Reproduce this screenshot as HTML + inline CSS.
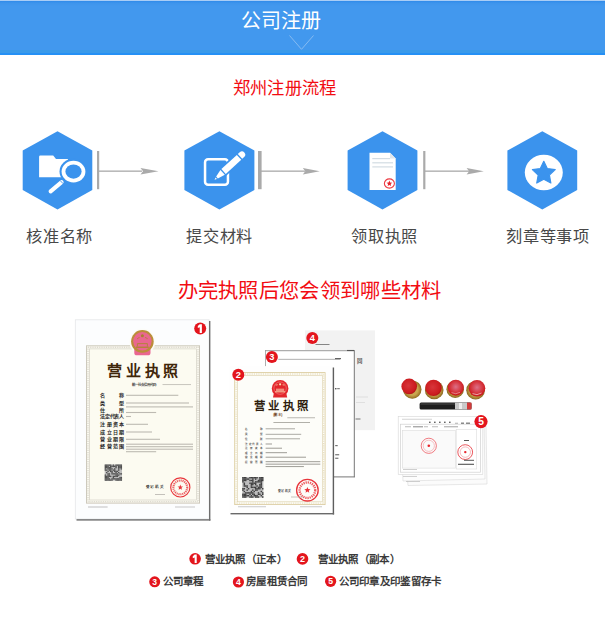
<!DOCTYPE html>
<html lang="zh-CN">
<head>
<meta charset="utf-8">
<style>
html,body{margin:0;padding:0;background:#fff;}
body{width:605px;height:617px;overflow:hidden;position:relative;font-family:"Liberation Sans",sans-serif;}
.a{position:absolute;white-space:nowrap;line-height:1;}
#hdr{position:absolute;left:0;top:0;width:605px;height:55px;background:linear-gradient(#a9cdf5 0,#a9cdf5 1px,#2f8ae9 1px,#3d94ec 3px,#4298ee 6px,#4298ee 49.5px,#3a9aea 50px,#3a9aea 52.8px,#2590f5 53.2px,#2590f5 55px);}
#hdr .t{left:240.5px;top:10.6px;font-size:20px;color:#fff;font-weight:500;}
.red{color:#f20c12;}
.lbl{font-size:16.2px;letter-spacing:0.8px;color:#484848;top:227.5px;}
.lg{font-size:10.5px;letter-spacing:0.3px;color:#3a3a3a;font-weight:bold;}
svg{position:absolute;left:0;top:0;}
</style>
</head>
<body>
<div id="hdr"><div class="a t">公司注册</div></div>
<div class="a red" style="left:232.8px;top:79.5px;font-size:17.3px;letter-spacing:0.3px;font-weight:500;">郑州注册流程</div>

<svg width="605" height="617" viewBox="0 0 605 617">
  <!-- chevron in header -->
  <polyline points="289.5,35.5 301.5,49.3 313.5,35.5" fill="none" stroke="#86bbf2" stroke-width="1"/>
  <!-- hexagons -->
  <g fill="#3b93ed">
    <polygon points="57.5,131.2 92.3,150.6 92.3,190 57.5,209.4 22.7,190 22.7,150.6"/>
    <polygon points="219.4,131.2 254.4,150.6 254.4,190 219.4,209.4 184.4,190 184.4,150.6"/>
    <polygon points="382.5,131.2 417.4,150.6 417.4,190 382.5,209.4 347.6,190 347.6,150.6"/>
    <polygon points="542.3,131.2 577.2,150.6 577.2,190 542.3,209.4 507.4,190 507.4,150.6"/>
  </g>
  <!-- connectors -->
  <g fill="#aaaaaa">
    <rect x="97" y="151" width="2.2" height="38.2"/>
    <rect x="258" y="151" width="3.6" height="38.2"/>
    <rect x="423.2" y="151" width="2.2" height="38.2"/>
    <rect x="98" y="170.5" width="44" height="1.3"/>
    <rect x="260" y="170.5" width="45" height="1.3"/>
    <rect x="424" y="170.5" width="45" height="1.3"/>
    <path d="M158.5,171.2 L140.5,168 L143,171.2 L140.5,174.4 Z"/>
    <path d="M319.8,171.2 L302.8,168 L305.3,171.2 L302.8,174.4 Z"/>
    <path d="M483.8,171.2 L466.6,168 L469.1,171.2 L466.6,174.4 Z"/>
  </g>
  <!-- icon 1: folder + magnifier -->
  <path d="M39.1,156.7 Q39.1,155.5 40.3,155.5 H53.2 L56,159.1 H68 V177.3 H39.1 Z" fill="#fff"/>
  <ellipse cx="73.5" cy="171.6" rx="14" ry="13" fill="#3b93ed"/>
  <ellipse cx="73.5" cy="171.6" rx="11.9" ry="10.8" fill="#fff"/>
  <ellipse cx="73.5" cy="171.6" rx="8.1" ry="7.1" fill="#3b93ed"/>
  <line x1="61.6" y1="182.1" x2="50.6" y2="191.4" stroke="#fff" stroke-width="4" stroke-linecap="round"/>
  <line x1="60.2" y1="180.6" x2="63.2" y2="183.7" stroke="#3b93ed" stroke-width="0.9"/>
  <!-- icon 2: square + pencil -->
  <rect x="205.05" y="159.15" width="22.9" height="25.6" rx="3" fill="none" stroke="#fff" stroke-width="2.5"/>
  <g transform="translate(214.5,179.8) rotate(-42.5)">
    <g fill="#3b93ed" stroke="#3b93ed" stroke-width="3.4" stroke-linejoin="round">
      <path d="M3.3,-1.2 L11,-3.25 H37.2 A3.25,3.25 0 0 1 37.2,3.25 H11 L3.3,1.2 Z"/>
    </g>
    <g fill="#fff">
      <path d="M0,0 L2.4,-0.95 L2.4,0.95 Z"/>
      <path d="M3.4,-1.25 L11,-3.25 L11,3.25 L3.4,1.25 Z"/>
      <rect x="12.3" y="-3.25" width="21" height="6.5"/>
      <path d="M34.6,-3.25 H37.2 A3.25,3.25 0 0 1 37.2,3.25 H34.6 Z"/>
    </g>
  </g>
  <!-- icon 3: document -->
  <path d="M369.5,152.8 h20.5 l5.7,5.7 v31.6 h-26.2 Z" fill="#fff"/>
  <path d="M390,152.8 v5.7 h5.7 Z" fill="#e2e8ed"/>
  <g stroke="#d3dce3" stroke-width="1.2">
    <line x1="372.3" y1="158.6" x2="390" y2="158.6"/>
    <line x1="372.3" y1="162.8" x2="393" y2="162.8"/>
    <line x1="372.3" y1="166.9" x2="393" y2="166.9"/>
  </g>
  <ellipse cx="389.4" cy="183.5" rx="5" ry="4.6" fill="none" stroke="#ec3c44" stroke-width="1.1"/>
  <path d="M389.40,180.60 L390.19,182.51 L392.25,182.67 L390.68,184.02 L391.16,186.03 L389.40,184.95 L387.64,186.03 L388.12,184.02 L386.55,182.67 L388.61,182.51 Z" fill="#e8222a"/>
  <!-- icon 4: circle star -->
  <ellipse cx="543.8" cy="172.5" rx="19" ry="17.8" fill="#fff"/>
  <g font-family="Liberation Sans, sans-serif"><rect x="305" y="330.4" width="70" height="99.8" fill="#f2f2f2"/><rect x="315.50" y="344.00" width="14.00" height="0.80" fill="#6a6a6a"/><text x="356.80" y="363.40" font-size="5.40" fill="#555" font-weight="bold" letter-spacing="0.00" text-anchor="start">同</text><rect x="356.00" y="396.60" width="12.00" height="0.80" fill="#dadada"/><rect x="356.00" y="402.10" width="9.00" height="0.80" fill="#dadada"/><rect x="355.50" y="418.50" width="5.00" height="1.00" fill="#777"/><circle cx="312.30" cy="338.00" r="6.00" fill="#e3151d"/><text x="312.30" y="341.30" font-size="9.30" font-weight="bold" fill="#fff" text-anchor="middle" font-family="Liberation Sans">4</text><rect x="265" y="350.2" width="89.4" height="127" fill="#fff"/><rect x="265" y="350.2" width="89.6" height="1" fill="#9a9a9a"/><rect x="265" y="350.2" width="0.8" height="16" fill="#9a9a9a"/><rect x="353.8" y="350.2" width="1" height="127" fill="#777"/><rect x="333" y="476.4" width="21.8" height="1" fill="#777"/><rect x="278.30" y="358.85" width="62.00" height="0.90" fill="#a8a8a8"/><rect x="335.00" y="358.10" width="6.00" height="1.00" fill="#555"/><rect x="347.00" y="349.95" width="7.00" height="1.10" fill="#555"/><rect x="335.20" y="388.00" width="1.20" height="1.40" fill="#333"/><rect x="337.20" y="388.20" width="2.60" height="1.00" fill="#666"/><rect x="335.20" y="445.25" width="2.50" height="0.90" fill="#444"/><rect x="335.20" y="454.35" width="4.00" height="0.90" fill="#444"/><rect x="335.20" y="457.75" width="3.20" height="0.90" fill="#444"/><circle cx="271.90" cy="357.10" r="6.00" fill="#e3151d"/><text x="271.90" y="360.40" font-size="9.30" font-weight="bold" fill="#fff" text-anchor="middle" font-family="Liberation Sans">3</text><rect x="75.3" y="319.8" width="133.8" height="199.2" fill="#fcfdfe" stroke="#e4e6e8" stroke-width="0.8"/><rect x="209" y="321" width="1.4" height="199.6" fill="#6e6e6e"/><rect x="76.5" y="519.2" width="133.9" height="1.4" fill="#6e6e6e"/><rect x="86" y="345.3" width="114" height="158.3" fill="#fcfbf1"/><rect x="86.5" y="345.8" width="113" height="157.3" fill="none" stroke="#cdc9bd" stroke-width="1"/><rect x="88" y="347.3" width="110" height="154.3" fill="none" stroke="#dcd9cf" stroke-width="1.4" stroke-dasharray="1 0.8"/><rect x="89.6" y="348.9" width="106.8" height="151.1" fill="none" stroke="#d4d0c5" stroke-width="0.7"/><circle cx="142.4" cy="341.6" r="13" fill="#fcfcf8"/><rect x="134.3" y="347.5" width="16.2" height="7.8" rx="2.6" fill="#ea6690"/><path d="M135.5,350.6 h13.8" stroke="#d9a070" stroke-width="0.7"/><circle cx="142.4" cy="341.4" r="11.3" fill="#bb8d3a"/><circle cx="142.4" cy="341.2" r="9.2" fill="#e9678f"/><circle cx="142.4" cy="335.8" r="1.5" fill="#a8802e"/><circle cx="139.00" cy="337.60" r="0.7" fill="#b08634"/><circle cx="145.80" cy="337.60" r="0.7" fill="#b08634"/><circle cx="137.80" cy="338.60" r="0.7" fill="#b08634"/><circle cx="147.00" cy="338.60" r="0.7" fill="#b08634"/><path d="M137.4,346.6 v-3 h10 v3" fill="none" stroke="#b08634" stroke-width="0.9"/><rect x="136" y="346.6" width="12.8" height="1.3" fill="#b08634"/><text x="107.20" y="375.60" font-size="15.00" fill="#3f2609" font-weight="900" letter-spacing="3.70" text-anchor="start" font-family="Liberation Serif, serif">营业执照</text><text x="131.50" y="386.00" font-size="3.40" fill="#3a3a3a" font-weight="bold" letter-spacing="0.00" text-anchor="start">统一社会信用代码</text><rect x="162.50" y="384.15" width="28.50" height="0.90" fill="#c2bfb8"/><text x="100.30" y="397.20" font-size="5.00" fill="#262626" font-weight="bold" letter-spacing="0.00" text-anchor="start">名</text><text x="118.90" y="397.20" font-size="5.00" fill="#262626" font-weight="bold" letter-spacing="0.00" text-anchor="start">称</text><rect x="126.00" y="394.75" width="52.30" height="1.10" fill="#bdbab2"/><text x="100.30" y="404.90" font-size="5.00" fill="#262626" font-weight="bold" letter-spacing="0.00" text-anchor="start">类</text><text x="118.90" y="404.90" font-size="5.00" fill="#262626" font-weight="bold" letter-spacing="0.00" text-anchor="start">型</text><rect x="126.00" y="402.45" width="63.00" height="1.10" fill="#bdbab2"/><text x="100.30" y="411.70" font-size="5.00" fill="#262626" font-weight="bold" letter-spacing="0.00" text-anchor="start">住</text><text x="118.90" y="411.70" font-size="5.00" fill="#262626" font-weight="bold" letter-spacing="0.00" text-anchor="start">所</text><rect x="126.00" y="406.35" width="67.00" height="1.10" fill="#bdbab2"/><rect x="126.00" y="411.95" width="30.15" height="1.10" fill="#bdbab2"/><text x="100.30" y="418.40" font-size="5.00" fill="#262626" font-weight="bold" letter-spacing="0.00" text-anchor="start">法</text><text x="104.90" y="418.40" font-size="5.00" fill="#262626" font-weight="bold" letter-spacing="0.00" text-anchor="start">定</text><text x="109.50" y="418.40" font-size="5.00" fill="#262626" font-weight="bold" letter-spacing="0.00" text-anchor="start">代</text><text x="114.10" y="418.40" font-size="5.00" fill="#262626" font-weight="bold" letter-spacing="0.00" text-anchor="start">表</text><text x="118.70" y="418.40" font-size="5.00" fill="#262626" font-weight="bold" letter-spacing="0.00" text-anchor="start">人</text><rect x="126.00" y="415.95" width="5.00" height="1.10" fill="#bdbab2"/><text x="100.30" y="426.20" font-size="5.00" fill="#262626" font-weight="bold" letter-spacing="0.00" text-anchor="start">注</text><text x="106.50" y="426.20" font-size="5.00" fill="#262626" font-weight="bold" letter-spacing="0.00" text-anchor="start">册</text><text x="112.70" y="426.20" font-size="5.00" fill="#262626" font-weight="bold" letter-spacing="0.00" text-anchor="start">资</text><text x="118.90" y="426.20" font-size="5.00" fill="#262626" font-weight="bold" letter-spacing="0.00" text-anchor="start">本</text><rect x="126.00" y="423.75" width="22.00" height="1.10" fill="#bdbab2"/><text x="100.30" y="433.90" font-size="5.00" fill="#262626" font-weight="bold" letter-spacing="0.00" text-anchor="start">成</text><text x="106.50" y="433.90" font-size="5.00" fill="#262626" font-weight="bold" letter-spacing="0.00" text-anchor="start">立</text><text x="112.70" y="433.90" font-size="5.00" fill="#262626" font-weight="bold" letter-spacing="0.00" text-anchor="start">日</text><text x="118.90" y="433.90" font-size="5.00" fill="#262626" font-weight="bold" letter-spacing="0.00" text-anchor="start">期</text><rect x="126.00" y="431.45" width="26.00" height="1.10" fill="#bdbab2"/><text x="100.30" y="441.20" font-size="5.00" fill="#262626" font-weight="bold" letter-spacing="0.00" text-anchor="start">营</text><text x="106.50" y="441.20" font-size="5.00" fill="#262626" font-weight="bold" letter-spacing="0.00" text-anchor="start">业</text><text x="112.70" y="441.20" font-size="5.00" fill="#262626" font-weight="bold" letter-spacing="0.00" text-anchor="start">期</text><text x="118.90" y="441.20" font-size="5.00" fill="#262626" font-weight="bold" letter-spacing="0.00" text-anchor="start">限</text><rect x="126.00" y="438.75" width="34.00" height="1.10" fill="#bdbab2"/><text x="100.30" y="448.40" font-size="5.00" fill="#262626" font-weight="bold" letter-spacing="0.00" text-anchor="start">经</text><text x="106.50" y="448.40" font-size="5.00" fill="#262626" font-weight="bold" letter-spacing="0.00" text-anchor="start">营</text><text x="112.70" y="448.40" font-size="5.00" fill="#262626" font-weight="bold" letter-spacing="0.00" text-anchor="start">范</text><text x="118.90" y="448.40" font-size="5.00" fill="#262626" font-weight="bold" letter-spacing="0.00" text-anchor="start">围</text><rect x="126.00" y="443.65" width="67.00" height="1.10" fill="#bdbab2"/><rect x="126.00" y="446.15" width="67.00" height="1.10" fill="#bdbab2"/><rect x="126.00" y="448.65" width="67.00" height="1.10" fill="#bdbab2"/><rect x="126.00" y="451.15" width="30.15" height="1.10" fill="#bdbab2"/><rect x="104.70" y="464.50" width="17.30" height="16.20" fill="#bdbdbd"/><rect x="104.70" y="464.50" width="1.38" height="1.30" fill="#505050"/><rect x="106.03" y="464.50" width="1.38" height="1.30" fill="#505050"/><rect x="107.36" y="464.50" width="1.38" height="1.30" fill="#505050"/><rect x="108.69" y="464.50" width="1.38" height="1.30" fill="#505050"/><rect x="110.02" y="464.50" width="1.38" height="1.30" fill="#505050"/><rect x="112.68" y="464.50" width="1.38" height="1.30" fill="#505050"/><rect x="115.35" y="464.50" width="1.38" height="1.30" fill="#505050"/><rect x="116.68" y="464.50" width="1.38" height="1.30" fill="#505050"/><rect x="118.01" y="464.50" width="1.38" height="1.30" fill="#505050"/><rect x="119.34" y="464.50" width="1.38" height="1.30" fill="#505050"/><rect x="120.67" y="464.50" width="1.38" height="1.30" fill="#505050"/><rect x="104.70" y="465.75" width="1.38" height="1.30" fill="#505050"/><rect x="106.03" y="465.75" width="1.38" height="1.30" fill="#505050"/><rect x="107.36" y="465.75" width="1.38" height="1.30" fill="#505050"/><rect x="110.02" y="465.75" width="1.38" height="1.30" fill="#505050"/><rect x="111.35" y="465.75" width="1.38" height="1.30" fill="#505050"/><rect x="112.68" y="465.75" width="1.38" height="1.30" fill="#505050"/><rect x="114.02" y="465.75" width="1.38" height="1.30" fill="#505050"/><rect x="115.35" y="465.75" width="1.38" height="1.30" fill="#505050"/><rect x="118.01" y="465.75" width="1.38" height="1.30" fill="#505050"/><rect x="119.34" y="465.75" width="1.38" height="1.30" fill="#505050"/><rect x="120.67" y="465.75" width="1.38" height="1.30" fill="#505050"/><rect x="104.70" y="466.99" width="1.38" height="1.30" fill="#505050"/><rect x="106.03" y="466.99" width="1.38" height="1.30" fill="#505050"/><rect x="107.36" y="466.99" width="1.38" height="1.30" fill="#505050"/><rect x="108.69" y="466.99" width="1.38" height="1.30" fill="#505050"/><rect x="110.02" y="466.99" width="1.38" height="1.30" fill="#505050"/><rect x="115.35" y="466.99" width="1.38" height="1.30" fill="#505050"/><rect x="118.01" y="466.99" width="1.38" height="1.30" fill="#505050"/><rect x="119.34" y="466.99" width="1.38" height="1.30" fill="#505050"/><rect x="120.67" y="466.99" width="1.38" height="1.30" fill="#505050"/><rect x="104.70" y="468.24" width="1.38" height="1.30" fill="#505050"/><rect x="107.36" y="468.24" width="1.38" height="1.30" fill="#505050"/><rect x="108.69" y="468.24" width="1.38" height="1.30" fill="#505050"/><rect x="110.02" y="468.24" width="1.38" height="1.30" fill="#505050"/><rect x="111.35" y="468.24" width="1.38" height="1.30" fill="#505050"/><rect x="114.02" y="468.24" width="1.38" height="1.30" fill="#505050"/><rect x="118.01" y="468.24" width="1.38" height="1.30" fill="#505050"/><rect x="120.67" y="468.24" width="1.38" height="1.30" fill="#505050"/><rect x="104.70" y="469.48" width="1.38" height="1.30" fill="#505050"/><rect x="106.03" y="469.48" width="1.38" height="1.30" fill="#505050"/><rect x="108.69" y="469.48" width="1.38" height="1.30" fill="#505050"/><rect x="110.02" y="469.48" width="1.38" height="1.30" fill="#505050"/><rect x="112.68" y="469.48" width="1.38" height="1.30" fill="#505050"/><rect x="114.02" y="469.48" width="1.38" height="1.30" fill="#505050"/><rect x="118.01" y="469.48" width="1.38" height="1.30" fill="#505050"/><rect x="107.36" y="470.73" width="1.38" height="1.30" fill="#505050"/><rect x="110.02" y="470.73" width="1.38" height="1.30" fill="#505050"/><rect x="111.35" y="470.73" width="1.38" height="1.30" fill="#505050"/><rect x="114.02" y="470.73" width="1.38" height="1.30" fill="#505050"/><rect x="115.35" y="470.73" width="1.38" height="1.30" fill="#505050"/><rect x="116.68" y="470.73" width="1.38" height="1.30" fill="#505050"/><rect x="106.03" y="471.98" width="1.38" height="1.30" fill="#505050"/><rect x="111.35" y="471.98" width="1.38" height="1.30" fill="#505050"/><rect x="115.35" y="471.98" width="1.38" height="1.30" fill="#505050"/><rect x="118.01" y="471.98" width="1.38" height="1.30" fill="#505050"/><rect x="107.36" y="473.22" width="1.38" height="1.30" fill="#505050"/><rect x="108.69" y="473.22" width="1.38" height="1.30" fill="#505050"/><rect x="111.35" y="473.22" width="1.38" height="1.30" fill="#505050"/><rect x="112.68" y="473.22" width="1.38" height="1.30" fill="#505050"/><rect x="114.02" y="473.22" width="1.38" height="1.30" fill="#505050"/><rect x="115.35" y="473.22" width="1.38" height="1.30" fill="#505050"/><rect x="116.68" y="473.22" width="1.38" height="1.30" fill="#505050"/><rect x="119.34" y="473.22" width="1.38" height="1.30" fill="#505050"/><rect x="120.67" y="473.22" width="1.38" height="1.30" fill="#505050"/><rect x="104.70" y="474.47" width="1.38" height="1.30" fill="#505050"/><rect x="107.36" y="474.47" width="1.38" height="1.30" fill="#505050"/><rect x="108.69" y="474.47" width="1.38" height="1.30" fill="#505050"/><rect x="115.35" y="474.47" width="1.38" height="1.30" fill="#505050"/><rect x="116.68" y="474.47" width="1.38" height="1.30" fill="#505050"/><rect x="118.01" y="474.47" width="1.38" height="1.30" fill="#505050"/><rect x="104.70" y="475.72" width="1.38" height="1.30" fill="#505050"/><rect x="106.03" y="475.72" width="1.38" height="1.30" fill="#505050"/><rect x="107.36" y="475.72" width="1.38" height="1.30" fill="#505050"/><rect x="108.69" y="475.72" width="1.38" height="1.30" fill="#505050"/><rect x="110.02" y="475.72" width="1.38" height="1.30" fill="#505050"/><rect x="112.68" y="475.72" width="1.38" height="1.30" fill="#505050"/><rect x="114.02" y="475.72" width="1.38" height="1.30" fill="#505050"/><rect x="115.35" y="475.72" width="1.38" height="1.30" fill="#505050"/><rect x="116.68" y="475.72" width="1.38" height="1.30" fill="#505050"/><rect x="104.70" y="476.96" width="1.38" height="1.30" fill="#505050"/><rect x="106.03" y="476.96" width="1.38" height="1.30" fill="#505050"/><rect x="107.36" y="476.96" width="1.38" height="1.30" fill="#505050"/><rect x="112.68" y="476.96" width="1.38" height="1.30" fill="#505050"/><rect x="119.34" y="476.96" width="1.38" height="1.30" fill="#505050"/><rect x="120.67" y="476.96" width="1.38" height="1.30" fill="#505050"/><rect x="104.70" y="478.21" width="1.38" height="1.30" fill="#505050"/><rect x="106.03" y="478.21" width="1.38" height="1.30" fill="#505050"/><rect x="107.36" y="478.21" width="1.38" height="1.30" fill="#505050"/><rect x="108.69" y="478.21" width="1.38" height="1.30" fill="#505050"/><rect x="111.35" y="478.21" width="1.38" height="1.30" fill="#505050"/><rect x="112.68" y="478.21" width="1.38" height="1.30" fill="#505050"/><rect x="114.02" y="478.21" width="1.38" height="1.30" fill="#505050"/><rect x="115.35" y="478.21" width="1.38" height="1.30" fill="#505050"/><rect x="116.68" y="478.21" width="1.38" height="1.30" fill="#505050"/><rect x="118.01" y="478.21" width="1.38" height="1.30" fill="#505050"/><rect x="119.34" y="478.21" width="1.38" height="1.30" fill="#505050"/><rect x="120.67" y="478.21" width="1.38" height="1.30" fill="#505050"/><rect x="104.70" y="479.45" width="1.38" height="1.30" fill="#505050"/><rect x="106.03" y="479.45" width="1.38" height="1.30" fill="#505050"/><rect x="107.36" y="479.45" width="1.38" height="1.30" fill="#505050"/><rect x="108.69" y="479.45" width="1.38" height="1.30" fill="#505050"/><rect x="110.02" y="479.45" width="1.38" height="1.30" fill="#505050"/><rect x="111.35" y="479.45" width="1.38" height="1.30" fill="#505050"/><rect x="115.35" y="479.45" width="1.38" height="1.30" fill="#505050"/><rect x="116.68" y="479.45" width="1.38" height="1.30" fill="#505050"/><rect x="118.01" y="479.45" width="1.38" height="1.30" fill="#505050"/><rect x="119.34" y="479.45" width="1.38" height="1.30" fill="#505050"/><rect x="120.67" y="479.45" width="1.38" height="1.30" fill="#505050"/><text x="145.50" y="488.30" font-size="3.60" fill="#333" font-weight="bold" letter-spacing="0.90" text-anchor="start">登记机关</text><rect x="155.00" y="494.00" width="10.00" height="1.00" fill="#c4c1ba"/><circle cx="180.30" cy="487.40" r="9.60" fill="none" stroke="#e8353b" stroke-width="1.15"/><circle cx="180.30" cy="487.40" r="6.91" fill="none" stroke="#e8353b" stroke-width="2.11" stroke-dasharray="1.15 0.77" opacity="0.8"/><path d="M180.30,484.52 L181.03,486.39 L183.04,486.51 L181.49,487.79 L181.99,489.73 L180.30,488.65 L178.61,489.73 L179.11,487.79 L177.56,486.51 L179.57,486.39 Z" fill="#e8353b"/><rect x="88.00" y="506.50" width="19.60" height="1.00" fill="#c0c0c0"/><rect x="175.00" y="506.50" width="20.00" height="1.00" fill="#c8c8c8"/><circle cx="200.20" cy="328.60" r="6.00" fill="#e3151d"/><polygon points="199.72,324.28 201.88,324.28 201.88,332.92 199.72,332.92 199.72,327.28 197.80,328.12 197.80,326.08" fill="#fff"/><rect x="229.5" y="366.5" width="104" height="147" fill="#fefefe"/><rect x="332.7" y="367.5" width="1.4" height="147" fill="#5e5e5e"/><rect x="230.5" y="513" width="103.6" height="1.4" fill="#6a6a6a"/><rect x="234.3" y="372.2" width="91.2" height="132.8" fill="#fdfdf9"/><rect x="234.7" y="372.6" width="90.4" height="132" fill="none" stroke="#d9c99a" stroke-width="0.8"/><rect x="236.1" y="374" width="87.6" height="129.2" fill="none" stroke="#e9dfc0" stroke-width="1.3" stroke-dasharray="0.9 0.9"/><rect x="237.5" y="375.4" width="84.8" height="126.4" fill="none" stroke="#dccfa8" stroke-width="0.6"/><path d="M273.8,393.5 h12.6 l0.8,4 h-14.2 Z" fill="#e02a2e"/><circle cx="280.1" cy="388.4" r="8.3" fill="#e3262b"/><circle cx="280.1" cy="388.1" r="6.2" fill="none" stroke="#f17a7a" stroke-width="0.7"/><circle cx="280.1" cy="384.3" r="1.1" fill="#fbe3b0"/><circle cx="277.10" cy="384.82" r="0.55" fill="#fbe3b0"/><circle cx="283.10" cy="384.82" r="0.55" fill="#fbe3b0"/><circle cx="276.10" cy="385.02" r="0.55" fill="#fbe3b0"/><circle cx="284.10" cy="385.02" r="0.55" fill="#fbe3b0"/><rect x="276" y="388.6" width="8.2" height="2.6" fill="#f28c7c"/><rect x="275" y="391.4" width="10.2" height="0.9" fill="#fbd9b0"/><text x="253.50" y="410.20" font-size="11.40" fill="#2e1d0e" font-weight="900" letter-spacing="3.60" text-anchor="start">营业执照</text><text x="273.30" y="416.40" font-size="3.40" fill="#6a3d1a" font-weight="bold" letter-spacing="0.00" text-anchor="start">(副 本)</text><rect x="287.30" y="417.40" width="27.70" height="0.80" fill="#a9a7a0"/><rect x="273.40" y="422.05" width="36.60" height="0.90" fill="#a9a7a0"/><text x="244.90" y="429.70" font-size="2.50" fill="#555" font-weight="bold" letter-spacing="0.00" text-anchor="start">名</text><text x="259.70" y="429.70" font-size="2.50" fill="#555" font-weight="bold" letter-spacing="0.00" text-anchor="start">称</text><rect x="265.60" y="428.32" width="29.40" height="0.95" fill="#a8a6a0"/><text x="244.90" y="435.20" font-size="2.50" fill="#555" font-weight="bold" letter-spacing="0.00" text-anchor="start">类</text><text x="259.70" y="435.20" font-size="2.50" fill="#555" font-weight="bold" letter-spacing="0.00" text-anchor="start">型</text><rect x="265.60" y="433.82" width="35.60" height="0.95" fill="#a8a6a0"/><text x="244.90" y="439.70" font-size="2.50" fill="#555" font-weight="bold" letter-spacing="0.00" text-anchor="start">住</text><text x="259.70" y="439.70" font-size="2.50" fill="#555" font-weight="bold" letter-spacing="0.00" text-anchor="start">所</text><rect x="265.60" y="438.32" width="34.40" height="0.95" fill="#a8a6a0"/><text x="244.90" y="444.90" font-size="2.50" fill="#555" font-weight="bold" letter-spacing="0.00" text-anchor="start">法</text><text x="248.60" y="444.90" font-size="2.50" fill="#555" font-weight="bold" letter-spacing="0.00" text-anchor="start">定</text><text x="252.30" y="444.90" font-size="2.50" fill="#555" font-weight="bold" letter-spacing="0.00" text-anchor="start">代</text><text x="256.00" y="444.90" font-size="2.50" fill="#555" font-weight="bold" letter-spacing="0.00" text-anchor="start">表</text><text x="259.70" y="444.90" font-size="2.50" fill="#555" font-weight="bold" letter-spacing="0.00" text-anchor="start">人</text><rect x="265.60" y="443.52" width="6.40" height="0.95" fill="#9a9892"/><text x="244.90" y="449.10" font-size="2.50" fill="#555" font-weight="bold" letter-spacing="0.00" text-anchor="start">注</text><text x="249.83" y="449.10" font-size="2.50" fill="#555" font-weight="bold" letter-spacing="0.00" text-anchor="start">册</text><text x="254.77" y="449.10" font-size="2.50" fill="#555" font-weight="bold" letter-spacing="0.00" text-anchor="start">资</text><text x="259.70" y="449.10" font-size="2.50" fill="#555" font-weight="bold" letter-spacing="0.00" text-anchor="start">本</text><rect x="265.60" y="447.72" width="16.40" height="0.95" fill="#9a9892"/><text x="244.90" y="453.60" font-size="2.50" fill="#555" font-weight="bold" letter-spacing="0.00" text-anchor="start">成</text><text x="249.83" y="453.60" font-size="2.50" fill="#555" font-weight="bold" letter-spacing="0.00" text-anchor="start">立</text><text x="254.77" y="453.60" font-size="2.50" fill="#555" font-weight="bold" letter-spacing="0.00" text-anchor="start">日</text><text x="259.70" y="453.60" font-size="2.50" fill="#555" font-weight="bold" letter-spacing="0.00" text-anchor="start">期</text><rect x="265.60" y="452.22" width="21.40" height="0.95" fill="#9a9892"/><text x="244.90" y="458.10" font-size="2.50" fill="#555" font-weight="bold" letter-spacing="0.00" text-anchor="start">营</text><text x="249.83" y="458.10" font-size="2.50" fill="#555" font-weight="bold" letter-spacing="0.00" text-anchor="start">业</text><text x="254.77" y="458.10" font-size="2.50" fill="#555" font-weight="bold" letter-spacing="0.00" text-anchor="start">期</text><text x="259.70" y="458.10" font-size="2.50" fill="#555" font-weight="bold" letter-spacing="0.00" text-anchor="start">限</text><rect x="265.60" y="456.72" width="40.40" height="0.95" fill="#9a9892"/><text x="244.90" y="462.60" font-size="2.50" fill="#555" font-weight="bold" letter-spacing="0.00" text-anchor="start">经</text><text x="249.83" y="462.60" font-size="2.50" fill="#555" font-weight="bold" letter-spacing="0.00" text-anchor="start">营</text><text x="254.77" y="462.60" font-size="2.50" fill="#555" font-weight="bold" letter-spacing="0.00" text-anchor="start">范</text><text x="259.70" y="462.60" font-size="2.50" fill="#555" font-weight="bold" letter-spacing="0.00" text-anchor="start">围</text><rect x="265.60" y="461.22" width="54.70" height="0.95" fill="#9a9892"/><rect x="265.60" y="463.67" width="54.70" height="0.95" fill="#9a9892"/><rect x="265.60" y="466.12" width="38.29" height="0.95" fill="#9a9892"/><rect x="242.20" y="477.00" width="21.20" height="20.70" fill="#bdbdbd"/><rect x="242.20" y="477.00" width="1.46" height="1.43" fill="#3f3f3f"/><rect x="243.61" y="477.00" width="1.46" height="1.43" fill="#3f3f3f"/><rect x="245.03" y="477.00" width="1.46" height="1.43" fill="#3f3f3f"/><rect x="249.27" y="477.00" width="1.46" height="1.43" fill="#3f3f3f"/><rect x="250.68" y="477.00" width="1.46" height="1.43" fill="#3f3f3f"/><rect x="252.09" y="477.00" width="1.46" height="1.43" fill="#3f3f3f"/><rect x="253.51" y="477.00" width="1.46" height="1.43" fill="#3f3f3f"/><rect x="254.92" y="477.00" width="1.46" height="1.43" fill="#3f3f3f"/><rect x="256.33" y="477.00" width="1.46" height="1.43" fill="#3f3f3f"/><rect x="259.16" y="477.00" width="1.46" height="1.43" fill="#3f3f3f"/><rect x="260.57" y="477.00" width="1.46" height="1.43" fill="#3f3f3f"/><rect x="261.99" y="477.00" width="1.46" height="1.43" fill="#3f3f3f"/><rect x="242.20" y="478.38" width="1.46" height="1.43" fill="#3f3f3f"/><rect x="243.61" y="478.38" width="1.46" height="1.43" fill="#3f3f3f"/><rect x="245.03" y="478.38" width="1.46" height="1.43" fill="#3f3f3f"/><rect x="246.44" y="478.38" width="1.46" height="1.43" fill="#3f3f3f"/><rect x="247.85" y="478.38" width="1.46" height="1.43" fill="#3f3f3f"/><rect x="252.09" y="478.38" width="1.46" height="1.43" fill="#3f3f3f"/><rect x="254.92" y="478.38" width="1.46" height="1.43" fill="#3f3f3f"/><rect x="259.16" y="478.38" width="1.46" height="1.43" fill="#3f3f3f"/><rect x="260.57" y="478.38" width="1.46" height="1.43" fill="#3f3f3f"/><rect x="261.99" y="478.38" width="1.46" height="1.43" fill="#3f3f3f"/><rect x="242.20" y="479.76" width="1.46" height="1.43" fill="#3f3f3f"/><rect x="243.61" y="479.76" width="1.46" height="1.43" fill="#3f3f3f"/><rect x="245.03" y="479.76" width="1.46" height="1.43" fill="#3f3f3f"/><rect x="249.27" y="479.76" width="1.46" height="1.43" fill="#3f3f3f"/><rect x="250.68" y="479.76" width="1.46" height="1.43" fill="#3f3f3f"/><rect x="252.09" y="479.76" width="1.46" height="1.43" fill="#3f3f3f"/><rect x="257.75" y="479.76" width="1.46" height="1.43" fill="#3f3f3f"/><rect x="259.16" y="479.76" width="1.46" height="1.43" fill="#3f3f3f"/><rect x="260.57" y="479.76" width="1.46" height="1.43" fill="#3f3f3f"/><rect x="261.99" y="479.76" width="1.46" height="1.43" fill="#3f3f3f"/><rect x="242.20" y="481.14" width="1.46" height="1.43" fill="#3f3f3f"/><rect x="252.09" y="481.14" width="1.46" height="1.43" fill="#3f3f3f"/><rect x="254.92" y="481.14" width="1.46" height="1.43" fill="#3f3f3f"/><rect x="256.33" y="481.14" width="1.46" height="1.43" fill="#3f3f3f"/><rect x="257.75" y="481.14" width="1.46" height="1.43" fill="#3f3f3f"/><rect x="259.16" y="481.14" width="1.46" height="1.43" fill="#3f3f3f"/><rect x="260.57" y="481.14" width="1.46" height="1.43" fill="#3f3f3f"/><rect x="243.61" y="482.52" width="1.46" height="1.43" fill="#3f3f3f"/><rect x="249.27" y="482.52" width="1.46" height="1.43" fill="#3f3f3f"/><rect x="250.68" y="482.52" width="1.46" height="1.43" fill="#3f3f3f"/><rect x="252.09" y="482.52" width="1.46" height="1.43" fill="#3f3f3f"/><rect x="253.51" y="482.52" width="1.46" height="1.43" fill="#3f3f3f"/><rect x="254.92" y="482.52" width="1.46" height="1.43" fill="#3f3f3f"/><rect x="260.57" y="482.52" width="1.46" height="1.43" fill="#3f3f3f"/><rect x="243.61" y="483.90" width="1.46" height="1.43" fill="#3f3f3f"/><rect x="250.68" y="483.90" width="1.46" height="1.43" fill="#3f3f3f"/><rect x="252.09" y="483.90" width="1.46" height="1.43" fill="#3f3f3f"/><rect x="254.92" y="483.90" width="1.46" height="1.43" fill="#3f3f3f"/><rect x="259.16" y="483.90" width="1.46" height="1.43" fill="#3f3f3f"/><rect x="260.57" y="483.90" width="1.46" height="1.43" fill="#3f3f3f"/><rect x="243.61" y="485.28" width="1.46" height="1.43" fill="#3f3f3f"/><rect x="245.03" y="485.28" width="1.46" height="1.43" fill="#3f3f3f"/><rect x="246.44" y="485.28" width="1.46" height="1.43" fill="#3f3f3f"/><rect x="250.68" y="485.28" width="1.46" height="1.43" fill="#3f3f3f"/><rect x="256.33" y="485.28" width="1.46" height="1.43" fill="#3f3f3f"/><rect x="259.16" y="485.28" width="1.46" height="1.43" fill="#3f3f3f"/><rect x="260.57" y="485.28" width="1.46" height="1.43" fill="#3f3f3f"/><rect x="246.44" y="486.66" width="1.46" height="1.43" fill="#3f3f3f"/><rect x="250.68" y="486.66" width="1.46" height="1.43" fill="#3f3f3f"/><rect x="252.09" y="486.66" width="1.46" height="1.43" fill="#3f3f3f"/><rect x="253.51" y="486.66" width="1.46" height="1.43" fill="#3f3f3f"/><rect x="254.92" y="486.66" width="1.46" height="1.43" fill="#3f3f3f"/><rect x="257.75" y="486.66" width="1.46" height="1.43" fill="#3f3f3f"/><rect x="259.16" y="486.66" width="1.46" height="1.43" fill="#3f3f3f"/><rect x="260.57" y="486.66" width="1.46" height="1.43" fill="#3f3f3f"/><rect x="242.20" y="488.04" width="1.46" height="1.43" fill="#3f3f3f"/><rect x="243.61" y="488.04" width="1.46" height="1.43" fill="#3f3f3f"/><rect x="247.85" y="488.04" width="1.46" height="1.43" fill="#3f3f3f"/><rect x="254.92" y="488.04" width="1.46" height="1.43" fill="#3f3f3f"/><rect x="256.33" y="488.04" width="1.46" height="1.43" fill="#3f3f3f"/><rect x="257.75" y="488.04" width="1.46" height="1.43" fill="#3f3f3f"/><rect x="259.16" y="488.04" width="1.46" height="1.43" fill="#3f3f3f"/><rect x="261.99" y="488.04" width="1.46" height="1.43" fill="#3f3f3f"/><rect x="242.20" y="489.42" width="1.46" height="1.43" fill="#3f3f3f"/><rect x="246.44" y="489.42" width="1.46" height="1.43" fill="#3f3f3f"/><rect x="252.09" y="489.42" width="1.46" height="1.43" fill="#3f3f3f"/><rect x="254.92" y="489.42" width="1.46" height="1.43" fill="#3f3f3f"/><rect x="256.33" y="489.42" width="1.46" height="1.43" fill="#3f3f3f"/><rect x="243.61" y="490.80" width="1.46" height="1.43" fill="#3f3f3f"/><rect x="250.68" y="490.80" width="1.46" height="1.43" fill="#3f3f3f"/><rect x="253.51" y="490.80" width="1.46" height="1.43" fill="#3f3f3f"/><rect x="260.57" y="490.80" width="1.46" height="1.43" fill="#3f3f3f"/><rect x="245.03" y="492.18" width="1.46" height="1.43" fill="#3f3f3f"/><rect x="246.44" y="492.18" width="1.46" height="1.43" fill="#3f3f3f"/><rect x="247.85" y="492.18" width="1.46" height="1.43" fill="#3f3f3f"/><rect x="249.27" y="492.18" width="1.46" height="1.43" fill="#3f3f3f"/><rect x="250.68" y="492.18" width="1.46" height="1.43" fill="#3f3f3f"/><rect x="252.09" y="492.18" width="1.46" height="1.43" fill="#3f3f3f"/><rect x="257.75" y="492.18" width="1.46" height="1.43" fill="#3f3f3f"/><rect x="261.99" y="492.18" width="1.46" height="1.43" fill="#3f3f3f"/><rect x="242.20" y="493.56" width="1.46" height="1.43" fill="#3f3f3f"/><rect x="243.61" y="493.56" width="1.46" height="1.43" fill="#3f3f3f"/><rect x="245.03" y="493.56" width="1.46" height="1.43" fill="#3f3f3f"/><rect x="249.27" y="493.56" width="1.46" height="1.43" fill="#3f3f3f"/><rect x="252.09" y="493.56" width="1.46" height="1.43" fill="#3f3f3f"/><rect x="253.51" y="493.56" width="1.46" height="1.43" fill="#3f3f3f"/><rect x="257.75" y="493.56" width="1.46" height="1.43" fill="#3f3f3f"/><rect x="259.16" y="493.56" width="1.46" height="1.43" fill="#3f3f3f"/><rect x="261.99" y="493.56" width="1.46" height="1.43" fill="#3f3f3f"/><rect x="242.20" y="494.94" width="1.46" height="1.43" fill="#3f3f3f"/><rect x="243.61" y="494.94" width="1.46" height="1.43" fill="#3f3f3f"/><rect x="245.03" y="494.94" width="1.46" height="1.43" fill="#3f3f3f"/><rect x="246.44" y="494.94" width="1.46" height="1.43" fill="#3f3f3f"/><rect x="247.85" y="494.94" width="1.46" height="1.43" fill="#3f3f3f"/><rect x="250.68" y="494.94" width="1.46" height="1.43" fill="#3f3f3f"/><rect x="253.51" y="494.94" width="1.46" height="1.43" fill="#3f3f3f"/><rect x="254.92" y="494.94" width="1.46" height="1.43" fill="#3f3f3f"/><rect x="256.33" y="494.94" width="1.46" height="1.43" fill="#3f3f3f"/><rect x="260.57" y="494.94" width="1.46" height="1.43" fill="#3f3f3f"/><rect x="242.20" y="496.32" width="1.46" height="1.43" fill="#3f3f3f"/><rect x="243.61" y="496.32" width="1.46" height="1.43" fill="#3f3f3f"/><rect x="245.03" y="496.32" width="1.46" height="1.43" fill="#3f3f3f"/><rect x="249.27" y="496.32" width="1.46" height="1.43" fill="#3f3f3f"/><rect x="250.68" y="496.32" width="1.46" height="1.43" fill="#3f3f3f"/><rect x="252.09" y="496.32" width="1.46" height="1.43" fill="#3f3f3f"/><rect x="254.92" y="496.32" width="1.46" height="1.43" fill="#3f3f3f"/><rect x="256.33" y="496.32" width="1.46" height="1.43" fill="#3f3f3f"/><rect x="257.75" y="496.32" width="1.46" height="1.43" fill="#3f3f3f"/><rect x="261.99" y="496.32" width="1.46" height="1.43" fill="#3f3f3f"/><text x="277.50" y="491.50" font-size="2.90" fill="#444" font-weight="bold" letter-spacing="0.60" text-anchor="start">登记机关</text><circle cx="307.40" cy="490.20" r="10.80" fill="none" stroke="#e8353b" stroke-width="1.30"/><circle cx="307.40" cy="490.20" r="7.78" fill="none" stroke="#e8353b" stroke-width="2.38" stroke-dasharray="1.30 0.86" opacity="0.8"/><path d="M307.40,486.96 L308.23,489.06 L310.48,489.20 L308.74,490.63 L309.30,492.82 L307.40,491.60 L305.50,492.82 L306.06,490.63 L304.32,489.20 L306.57,489.06 Z" fill="#e8353b"/><rect x="291.00" y="496.60" width="12.00" height="0.80" fill="#b8b5ae"/><rect x="238.00" y="506.40" width="28.00" height="0.80" fill="#bcbcbc"/><rect x="300.00" y="506.40" width="22.00" height="0.80" fill="#bcbcbc"/><circle cx="238.30" cy="374.80" r="6.00" fill="#e3151d"/><text x="238.30" y="378.10" font-size="9.30" font-weight="bold" fill="#fff" text-anchor="middle" font-family="Liberation Sans">2</text><defs><radialGradient id="rg1" cx="0.45" cy="0.45" r="0.6"><stop offset="0" stop-color="#d8353a"/><stop offset="0.75" stop-color="#cc1c20"/><stop offset="1" stop-color="#a8100f"/></radialGradient><radialGradient id="rg2" cx="0.5" cy="0.45" r="0.6"><stop offset="0" stop-color="#dc7088"/><stop offset="0.45" stop-color="#d8424e"/><stop offset="0.85" stop-color="#cc1a1e"/><stop offset="1" stop-color="#a50f0f"/></radialGradient><radialGradient id="gb" cx="0.5" cy="0.5" r="0.5"><stop offset="0.6" stop-color="#c9a650"/><stop offset="0.9" stop-color="#a07a2a"/><stop offset="1" stop-color="#806020"/></radialGradient></defs><circle cx="412.30" cy="389.60" r="9.20" fill="url(#gb)"/><circle cx="409.20" cy="386.40" r="7.80" fill="url(#rg1)"/><circle cx="434.20" cy="389.90" r="9.30" fill="url(#gb)"/><circle cx="433.50" cy="387.90" r="8.20" fill="url(#rg1)"/><circle cx="455.20" cy="389.20" r="8.70" fill="url(#gb)"/><circle cx="455.80" cy="387.70" r="8.00" fill="url(#rg2)"/><circle cx="475.60" cy="390.20" r="9.30" fill="url(#gb)"/><circle cx="477.00" cy="388.30" r="8.30" fill="url(#rg2)"/><path d="M472.5,393.6 Q477,396 481.5,393" fill="none" stroke="#f4d0d4" stroke-width="0.9" opacity="0.8"/><path d="M451.5,392.6 Q455.8,395 460,392.3" fill="none" stroke="#f0c0c6" stroke-width="0.8" opacity="0.7"/><rect x="419.6" y="402.4" width="51.9" height="7.2" rx="1.5" fill="#1e1e1e"/><rect x="420.5" y="403.2" width="40" height="1.6" fill="#3b3b3b"/><rect x="455" y="402.6" width="12" height="6.8" fill="#c9c9c9"/><rect x="459" y="403" width="3" height="6" fill="#eee"/><rect x="467" y="402.6" width="4.5" height="6.8" fill="#d23a3a"/><polygon points="403,427 486,425 487,484 408,485.5" fill="#fbfbfb" stroke="#d9d9d9" stroke-width="0.6"/><polygon points="400,423 484,421 485,479 403,481" fill="#fdfdfd" stroke="#d9d9d9" stroke-width="0.6"/><rect x="398.2" y="416.3" width="84.6" height="58.2" fill="#fff" stroke="#d6d6d6" stroke-width="0.6"/><rect x="402.00" y="418.80" width="30.00" height="0.80" fill="#c8c8c8"/><rect x="429.00" y="421.60" width="1.60" height="1.40" fill="#666"/><rect x="434.00" y="421.60" width="1.60" height="1.40" fill="#666"/><rect x="439.00" y="421.60" width="1.60" height="1.40" fill="#666"/><rect x="444.00" y="421.60" width="1.60" height="1.40" fill="#666"/><rect x="449.00" y="421.60" width="1.60" height="1.40" fill="#666"/><rect x="455.00" y="422.80" width="3.00" height="0.80" fill="#999"/><rect x="461.00" y="422.65" width="3.00" height="1.10" fill="#555"/><rect x="466.00" y="422.65" width="4.00" height="1.10" fill="#555"/><rect x="400.6" y="424.2" width="79.8" height="48" fill="none" stroke="#d0d0d0" stroke-width="0.7"/><rect x="405.00" y="426.40" width="6.00" height="0.80" fill="#aaa"/><rect x="413.00" y="426.30" width="10.00" height="1.00" fill="#888"/><rect x="424.00" y="426.40" width="4.00" height="0.80" fill="#aaa"/><rect x="432.00" y="426.40" width="6.00" height="0.80" fill="#aaa"/><rect x="444.00" y="426.35" width="14.00" height="0.90" fill="#999"/><rect x="402.3" y="430.4" width="53" height="37.7" fill="#fafafa" stroke="#dcdcdc" stroke-width="0.6"/><rect x="456.2" y="429.5" width="20.5" height="39.5" fill="#fff" stroke="#dcdcdc" stroke-width="0.6"/><circle cx="428.8" cy="445.8" r="7.6" fill="none" stroke="#ee5b62" stroke-width="0.8"/><circle cx="428.8" cy="445.8" r="5.6" fill="none" stroke="#f39aa0" stroke-width="0.6"/><circle cx="428.8" cy="445.8" r="1.3" fill="#e8252c"/><circle cx="465.2" cy="452.1" r="7.4" fill="none" stroke="#e8454c" stroke-width="0.9"/><circle cx="465.3" cy="452.1" r="5.2" fill="none" stroke="#f08c92" stroke-width="0.6"/><circle cx="465.3" cy="452.1" r="1.2" fill="#e8252c"/><rect x="464.00" y="440.00" width="5.00" height="1.00" fill="#555"/><rect x="464.00" y="459.80" width="10.00" height="1.00" fill="#555"/><rect x="458.00" y="463.75" width="16.00" height="1.10" fill="#555"/><rect x="403.00" y="469.25" width="14.00" height="0.70" fill="#bbb"/><rect x="403.00" y="475.95" width="14.00" height="0.70" fill="#bbb"/><rect x="406.00" y="481.15" width="14.00" height="0.70" fill="#bbb"/><circle cx="481.00" cy="421.60" r="6.60" fill="#e3151d"/><text x="481.00" y="425.23" font-size="10.23" font-weight="bold" fill="#fff" text-anchor="middle" font-family="Liberation Sans">5</text><circle cx="195.10" cy="558.80" r="5.80" fill="#e3151d"/><polygon points="194.64,554.62 196.72,554.62 196.72,562.98 194.64,562.98 194.64,557.52 192.78,558.34 192.78,556.36" fill="#fff"/><circle cx="302.50" cy="558.90" r="5.80" fill="#e3151d"/><text x="302.50" y="562.09" font-size="8.99" font-weight="bold" fill="#fff" text-anchor="middle" font-family="Liberation Sans">2</text><circle cx="154.70" cy="581.80" r="5.50" fill="#e3151d"/><text x="154.70" y="584.82" font-size="8.53" font-weight="bold" fill="#fff" text-anchor="middle" font-family="Liberation Sans">3</text><circle cx="238.40" cy="582.00" r="5.60" fill="#e3151d"/><text x="238.40" y="585.08" font-size="8.68" font-weight="bold" fill="#fff" text-anchor="middle" font-family="Liberation Sans">4</text><circle cx="330.60" cy="581.30" r="5.60" fill="#e3151d"/><text x="330.60" y="584.38" font-size="8.68" font-weight="bold" fill="#fff" text-anchor="middle" font-family="Liberation Sans">5</text></g>
  <path d="M543.80,161.30 L547.27,168.53 L555.21,169.59 L549.41,175.12 L550.85,183.01 L543.80,179.20 L536.75,183.01 L538.19,175.12 L532.39,169.59 L540.33,168.53 Z" fill="#3b93ed" stroke="#3b93ed" stroke-width="1.2" stroke-linejoin="round"/>
</svg>

<div class="a lbl" style="left:26px;">核准名称</div>
<div class="a lbl" style="left:186px;">提交材料</div>
<div class="a lbl" style="left:351px;">领取执照</div>
<div class="a lbl" style="left:506px;">刻章等事项</div>

<div class="a red" style="left:177.5px;top:280.5px;font-size:20.3px;letter-spacing:0.33px;font-weight:500;">办完执照后您会领到哪些材料</div>


<div class="a lg" style="left:204.5px;top:554px;">营业执照（正本）</div>
<div class="a lg" style="left:317.5px;top:554px;">营业执照（副本）</div>
<div class="a lg" style="left:162.5px;top:576px;">公司章程</div>
<div class="a lg" style="left:246px;top:576px;">房屋租赁合同</div>
<div class="a lg" style="left:338.5px;top:576px;">公司印章及印鉴留存卡</div>
</body>
</html>
